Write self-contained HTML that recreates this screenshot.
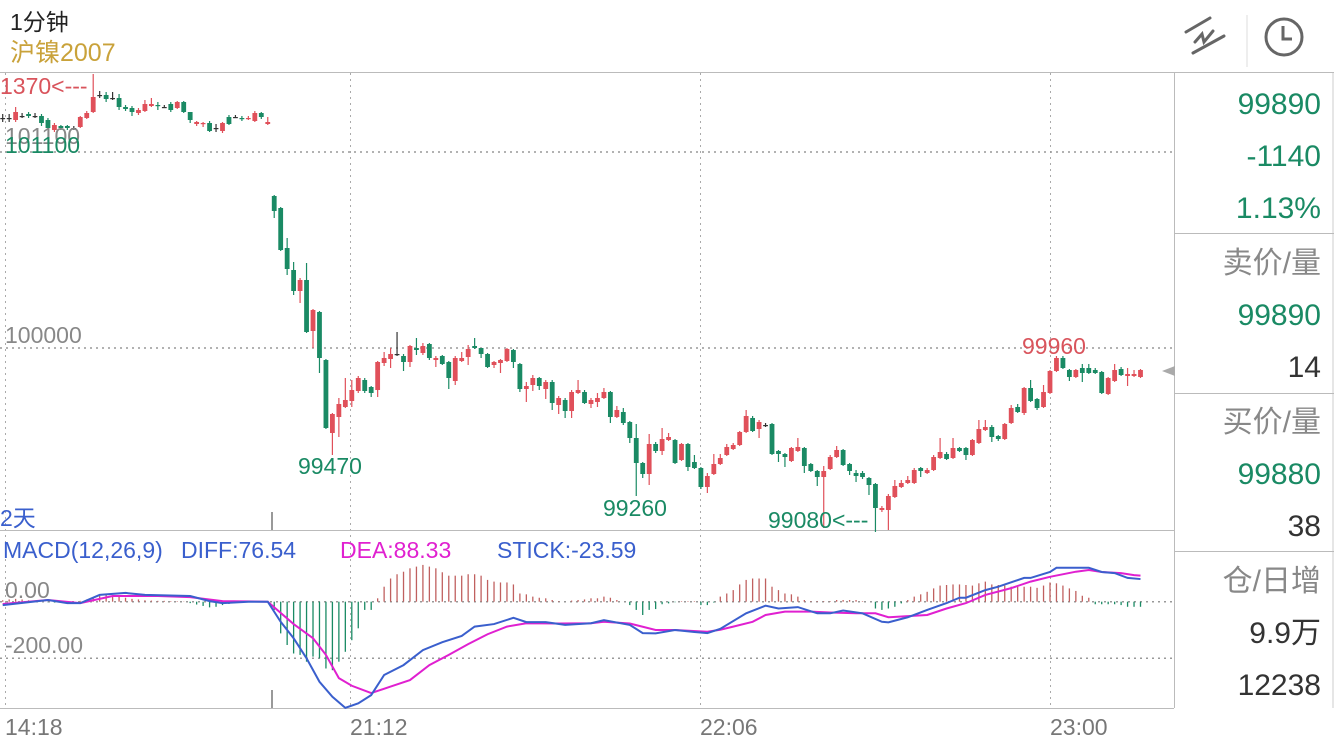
<!DOCTYPE html>
<html><head><meta charset="utf-8"><style>
body{margin:0;width:1334px;height:750px;background:#fff;overflow:hidden;font-family:"Liberation Sans","Noto Sans CJK SC",sans-serif}
svg{position:absolute;left:0;top:0}
text{font-family:"Liberation Sans","Noto Sans CJK SC",sans-serif}
</style></head><body>
<svg id="chart" width="1334" height="750">
<text x="10" y="30" font-size="23" fill="#222">1分钟</text>
<text x="10" y="61" font-size="25" fill="#c9a23a">沪镍2007</text>
<g stroke="#666" stroke-width="3" fill="none" stroke-linecap="round">
<line x1="1186" y1="32" x2="1210" y2="18"/><line x1="1193" y1="53" x2="1224" y2="36"/><polyline points="1195,42 1202,34 1204,42 1213,31"/></g>
<line x1="1247" y1="15" x2="1247" y2="67" stroke="#ddd" stroke-width="1"/>
<g stroke="#666" stroke-width="3" fill="none"><circle cx="1284" cy="37" r="18"/><polyline points="1283,26 1283,39 1292,39"/></g>
<line x1="0" y1="72.5" x2="1334" y2="72.5" stroke="#bbb"/>
<g id="grid"></g>
<g id="candles"></g>
<g id="macd"></g>
<g font-size="23">
<text x="0" y="94" fill="#d9545c">1370&lt;---</text>
<text x="5" y="144" fill="#888">101100</text>
<text x="5" y="153" fill="#1a8a64">101100</text>
<text x="5" y="343" fill="#888">100000</text>
<text x="298" y="474" fill="#1a8a64">99470</text>
<text x="603" y="516" fill="#1a8a64">99260</text>
<text x="768" y="528" fill="#1a8a64">99080&lt;---</text>
<text x="1022" y="354" fill="#d9545c">99960</text>
<text x="0" y="526" fill="#3a5fcd">2天</text>
</g>
<g font-size="23">
<text x="3" y="558" fill="#3a5fcd">MACD(12,26,9)</text>
<text x="181" y="558" fill="#3a5fcd">DIFF:76.54</text>
<text x="340" y="558" fill="#e020d0">DEA:88.33</text>
<text x="497" y="558" fill="#3a5fcd">STICK:-23.59</text>
<text x="5" y="598" fill="#888">0.00</text>
<text x="5" y="653" fill="#888">-200.00</text>
</g>
<g font-size="23" fill="#777">
<text x="5" y="735">14:18</text><text x="350" y="735">21:12</text><text x="700" y="735">22:06</text><text x="1050" y="735">23:00</text>
</g>
<g font-size="30" text-anchor="end">
<line x1="1174.5" y1="73" x2="1174.5" y2="708" stroke="#bbb"/>
<line x1="1333" y1="73" x2="1333" y2="708" stroke="#ccc"/>
<line x1="1174" y1="233.5" x2="1334" y2="233.5" stroke="#bbb"/>
<line x1="1174" y1="393.5" x2="1334" y2="393.5" stroke="#bbb"/>
<line x1="1174" y1="551.5" x2="1334" y2="551.5" stroke="#bbb"/>
<text x="1321" y="114" fill="#1a8a64">99890</text>
<text x="1321" y="166" fill="#1a8a64">-1140</text>
<text x="1321" y="218" fill="#1a8a64">1.13%</text>
<text x="1321" y="273" fill="#888">卖价/量</text>
<text x="1321" y="325" fill="#1a8a64">99890</text>
<text x="1321" y="377" fill="#333">14</text>
<text x="1321" y="432" fill="#888">买价/量</text>
<text x="1321" y="484" fill="#1a8a64">99880</text>
<text x="1321" y="536" fill="#333">38</text>
<text x="1321" y="591" fill="#888">仓/日增</text>
<text x="1321" y="643" fill="#333">9.9万</text>
<text x="1321" y="695" fill="#333">12238</text>
</g>
<polygon points="1162,371 1175,366 1175,376" fill="#aaa"/>
</svg>
<script>
const opens=[101150,101150,101140,101160,101170,101160,101160,101140,101090,101110,101110,101100,101105,101150,101180,101265,101265,101250,101250,101205,101200,101175,101185,101210,101215,101205,101220,101200,101230,101180,101120,101120,101125,101100,101085,101155,101155,101150,101145,101135,101175,101120,
100760,100700,100500,100390,100285,100340,100085,100180,99940,99575,99655,99705,99735,99785,99840,99805,99790,99925,99945,99970,99960,99930,100000,99975,100020,99940,99960,99930,99835,99935,99955,100010,100000,99970,99915,99925,99935,99990,99920,99795,99815,99850,99795,99830,99715,
99740,99685,99775,99780,99720,99730,99750,99780,99655,99680,99630,99550,99425,99370,99520,99485,99540,99540,99440,99520,99430,99400,99305,99370,99420,99465,99495,99515,99580,99650,99595,99615,99620,99485,99470,99435,99485,99500,99420,99385,99355,99395,99455,99490,99420,99375,99375,99350,99320,99190,99190,99255,99305,99325,99325,99400,99375,99390,99450,99470,99450,99500,99500,99465,99525,99590,99605,99560,99545,99625,99705,99675,99800,99745,99705,99775,99885,99950,99890,99855,99900,99900,99890,99880,99770,99835,99895,99860,99860,99855];
const closes=[101150,101150,101180,101160,101160,101160,101125,101100,101115,101100,101100,101100,101155,101175,101255,101265,101245,101250,101205,101195,101180,101190,101220,101220,101210,101205,101190,101230,101180,101140,101130,101125,101085,101100,101125,101120,101155,101145,101150,101175,101155,101130,
100685,100490,100395,100285,100340,100080,100190,99950,99600,99670,99720,99740,99790,99850,99785,99775,99930,99950,99970,99970,99930,100010,99990,100010,99950,99950,99920,99850,99950,99950,99995,100000,99970,99905,99930,99940,99995,99930,99795,99810,99850,99810,99830,99725,99750,
99685,99780,99790,99725,99740,99750,99780,99655,99690,99625,99550,99425,99370,99520,99485,99545,99555,99425,99520,99405,99400,99305,99360,99420,99450,99505,99515,99580,99660,99585,99630,99615,99470,99470,99455,99500,99505,99410,99385,99355,99385,99455,99490,99415,99385,99360,99355,99315,99200,99200,99260,99310,99325,99340,99390,99385,99390,99455,99480,99445,99500,99485,99465,99540,99595,99605,99555,99545,99620,99700,99680,99800,99735,99700,99780,99885,99950,99900,99855,99890,99875,99875,99875,99775,99850,99890,99865,99870,99870,99890];
const highs=[101170,101170,101205,101175,101180,101175,101170,101150,101125,101115,101115,101110,101160,101185,101370,101285,101280,101280,101270,101215,101210,101200,101240,101250,101230,101215,101230,101235,101235,101180,101135,101130,101135,101120,101130,101165,101165,101160,101160,101185,101180,101155,
100765,100705,100550,100430,100350,100425,100195,100185,99945,99675,99750,99850,99840,99860,99850,99810,99935,99980,100000,100080,99970,100015,100050,100025,100025,99960,99965,99935,99960,99980,100015,100050,99995,99975,99935,99945,100000,99995,99925,99830,99865,99855,99840,99840,99760,
99750,99790,99840,99790,99750,99775,99800,99785,99710,99700,99635,99620,99430,99570,99530,99600,99575,99545,99525,99525,99465,99405,99375,99470,99470,99520,99525,99585,99690,99660,99640,99625,99625,99490,99475,99505,99550,99505,99425,99390,99410,99465,99510,99495,99425,99390,99385,99355,99325,99210,99270,99340,99340,99360,99400,99405,99400,99465,99550,99480,99550,99505,99505,99545,99640,99640,99615,99565,99625,99715,99720,99805,99840,99750,99815,99890,99960,99960,99895,99895,99920,99920,99900,99885,99855,99920,99905,99900,99890,99895];
const lows=[101130,101130,101130,101150,101150,101150,101110,101090,101080,101090,101090,101090,101100,101145,101175,101250,101230,101240,101190,101185,101160,101165,101180,101205,101190,101200,101180,101195,101175,101125,101110,101105,101080,101080,101075,101115,101150,101135,101140,101130,101145,101115,
100650,100485,100365,100265,100225,100075,100000,99875,99595,99465,99555,99700,99705,99775,99775,99755,99755,99910,99900,99960,99885,99905,99965,99965,99940,99905,99915,99795,99815,99930,99915,99995,99950,99900,99900,99875,99930,99900,99780,99730,99785,99790,99745,99690,99670,
99650,99650,99770,99720,99700,99705,99745,99625,99650,99615,99525,99260,99350,99315,99475,99465,99535,99420,99435,99385,99395,99295,99275,99365,99415,99460,99490,99510,99575,99580,99550,99605,99465,99430,99405,99430,99480,99375,99380,99310,99100,99390,99450,99410,99365,99330,99345,99265,99080,99180,99090,99250,99300,99320,99320,99355,99370,99385,99445,99440,99445,99480,99440,99460,99520,99585,99530,99535,99540,99620,99675,99665,99730,99690,99700,99770,99880,99895,99835,99850,99830,99870,99870,99770,99765,99830,99860,99810,99855,99850];
const stick=[5,8,10,8,5,2,0,-2,-3,-3,-2,0,3,8,14,20,25,22,18,14,10,8,5,4,3,3,2,2,1,-5,-10,-15,-20,-18,-12,-8,-4,-2,-1,0,1,1,
-29,-112,-153,-183,-188,-212,-194,-200,-236,-242,-212,-177,-136,-94,-29,-29,
12,53,82,97,106,118,124,130,124,118,104,92,92,92,97,97,92,77,71,68,68,61,29,26,18,14,12,6,2,0,4,6,8,12,12,18,14,6,0,-12,-29,-47,-29,-26,-9,-6,-2,2,2,2,-12,-12,
-3,
18,29,41,61,77,82,82,82,53,41,29,26,18,6,2,2,2,2,6,6,6,6,2,0,-24,-29,-24,-18,-6,6,18,26,35,47,57,59,61,61,59,57,65,71,61,59,57,53,53,53,53,49,57,68,65,57,47,38,21,14,-9,-9,-9,-9,-12,-18,
-18,-18];
const diffIdx=[0,7,10,12,15,19,22,29,32,34,38,41,43,45,47,49,51,53,55,57,59,62,65,68,71,73,76,79,81,84,87,91,93,97,99,101,104,107,109,111,115,118,120,123,126,128,130,133,136,137,140,143,146,148,149,152,154,158,159,162,163,168,170,172,174,176];
const diffVals=[-12,6,-5,-5,24,31,24,20,2,-5,0,0,-71,-129,-200,-283,-336,-375,-359,-330,-259,-224,-171,-143,-121,-88,-79,-57,-72,-72,-82,-76,-65,-82,-111,-112,-100,-107,-111,-96,-41,-14,-24,-19,-41,-41,-31,-41,-71,-73,-55,-29,-5,14,14,41,53,84,84,105,120,120,105,101,84,80];
const deaIdx=[0,7,12,17,24,29,34,41,45,48,50,52,54,57,60,63,66,69,72,75,78,81,86,91,93,97,101,104,109,111,113,116,118,121,125,128,132,135,137,140,143,146,149,152,156,159,162,166,168,170,173,175,176];
const deaVals=[-8,6,-5,20,20,16,2,0,-79,-129,-188,-270,-297,-323,-300,-277,-224,-188,-150,-115,-88,-76,-77,-76,-71,-77,-100,-100,-106,-99,-88,-71,-47,-35,-35,-38,-41,-41,-55,-51,-47,-24,-5,24,48,71,88,106,112,105,101,94,92];
const gridPrices=[100980,100000];
const macdGrid=[0,-200];

const NS='http://www.w3.org/2000/svg';
const N=opens.length;
const xS=i=>2.7+i*(1137.8/(N-1));
const yP=p=>348-(p-100000)*0.2;
const yM=v=>601.7-v*0.283;
function mk(tag,attrs,parent){const e=document.createElementNS(NS,tag);for(const k in attrs)e.setAttribute(k,attrs[k]);parent.appendChild(e);return e;}
const grid=document.getElementById('grid');
[[350],[700],[1050],[5]].forEach(a=>{const l=mk('line',{x1:a[0]+.5,y1:73,x2:a[0]+.5,y2:708,stroke:'#aaa','stroke-dasharray':'2,4'},grid);});
gridPrices.forEach(p=>{const l=mk('line',{x1:0,y1:yP(p),x2:1174,y2:yP(p),stroke:'#999','stroke-dasharray':'2,4','stroke-width':1.5},grid);});
macdGrid.forEach(v=>{const l=mk('line',{x1:0,y1:yM(v),x2:1174,y2:yM(v),stroke:'#999','stroke-dasharray':'2,4','stroke-width':1.5},grid);});
let l1=mk('line',{x1:0,y1:530.5,x2:1174,y2:530.5,stroke:'#bbb'},grid);
let l2=mk('line',{x1:0,y1:708.5,x2:1174,y2:708.5,stroke:'#bbb'},grid);
let t1=mk('line',{x1:272,y1:512,x2:272,y2:530,stroke:'#777','stroke-width':1.5},grid);
let t2=mk('line',{x1:272,y1:690,x2:272,y2:708,stroke:'#777','stroke-width':1.5},grid);
const cg=document.getElementById('candles');
for(let i=0;i<N;i++){
  const o=opens[i],c=closes[i];
  const col=c>o?'#e0505a':(c<o?'#1a8a64':'#333');
  const x=xS(i);
  const w=mk('line',{x1:x,y1:yP(highs[i]),x2:x,y2:yP(lows[i]),stroke:col,'stroke-width':1.2},cg);
  
  
  const top=yP(Math.max(o,c)),h=Math.max(1.2,Math.abs(yP(o)-yP(c)));
  const b=mk('rect',{x:x-2.4,y:top,width:4.8,height:h,fill:col},cg);
  
  
}
const mg=document.getElementById('macd');
for(let i=0;i<stick.length;i++){
  const v=stick[i],x=xS(i);
  const s=mk('line',{x1:x,y1:yM(0),x2:x,y2:yM(v),stroke:v>=0?'#c0605f':'#1a8a64','stroke-width':1.3},mg);
  
  
}
const dea=mk('polyline',{points:deaIdx.map((d,k)=>xS(d)+','+yM(deaVals[k])).join(' '),fill:'none',stroke:'#e020d0','stroke-width':2},mg);


const dif=mk('polyline',{points:diffIdx.map((d,k)=>xS(d)+','+yM(diffVals[k])).join(' '),fill:'none',stroke:'#3a5fcd','stroke-width':2},mg);


</script>
</body></html>
